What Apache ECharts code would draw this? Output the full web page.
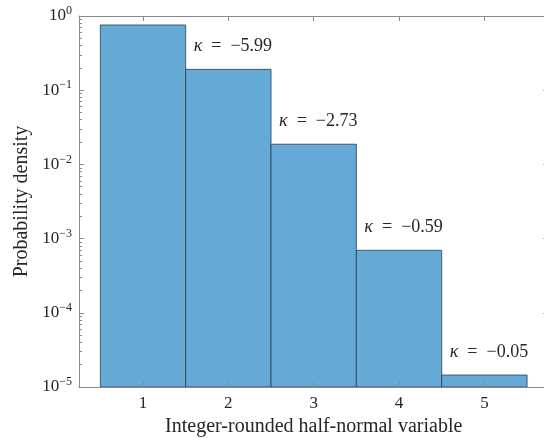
<!DOCTYPE html>
<html>
<head>
<meta charset="utf-8">
<script src="https://cdn.jsdelivr.net/npm/echarts@6/dist/echarts.min.js"></script>
<style>
html,body{margin:0;padding:0;background:#fff;}
#chart{width:544px;height:439px;}
</style>
</head>
<body>
<div id="chart"></div>
<script>
// ---- data ----
var categories = [1, 2, 3, 4, 5];
var density = [0.757, 0.191, 0.0187, 0.000695, 0.0000145];
var kappaLabels = ['', '\u22125.99', '\u22122.73', '\u22120.59', '\u22120.05'];
var xTicks = [1, 2, 3, 4, 5];
var yMajor = [1e-5, 1e-4, 1e-3, 1e-2, 1e-1, 1];

var minorExp = [];
for (var e = -5; e < 0; e++) {
  for (var m = 2; m <= 9; m++) minorExp.push(Math.log10(m * Math.pow(10, e)));
}

var FONT = 'Liberation Serif';
var AXIS = '#8a8a8a';
var TXT = '#262626';

var chart = echarts.init(document.getElementById('chart'));

function yLabel(v) {
  var ex = Math.round(Math.log10(v));
  var s = ex < 0 ? '\u2212' + (-ex) : String(ex);
  return '{b|10}{s|' + s + '}';
}

var seriesData = categories.map(function (c, i) { return [c, density[i], i]; });

var G = { left: 79, top: 16, right: -4.4, bottom: 52, outerBoundsMode: 'none' };
// helper grids whose edge coincides with the left / right frame lines (for minor ticks)
var GL = { left: 0, width: 79, top: 16, bottom: 52, outerBoundsMode: 'none' };
var GR = { left: 548.4, width: 40, top: 16, bottom: 52, outerBoundsMode: 'none' };
var hiddenX = function (gi) {
  return { type: 'value', gridIndex: gi, min: 0, max: 1, axisLine: { show: false }, axisTick: { show: false }, axisLabel: { show: false }, splitLine: { show: false } };
};

var option = {
  animation: false,
  backgroundColor: '#fff',
  grid: [Object.assign({}, G), Object.assign({}, G), GL, GR],
  xAxis: [{
    type: 'value', gridIndex: 0, min: 0.25, max: 5.75, position: 'bottom', z: 10,
    name: 'Integer-rounded half-normal variable', nameLocation: 'middle', nameGap: 27,
    nameTextStyle: { fontFamily: FONT, fontSize: 20, color: TXT },
    axisLine: { show: true, lineStyle: { color: AXIS, width: 1 } },
    axisTick: { show: true, inside: true, length: 5, lineStyle: { color: AXIS }, customValues: xTicks },
    axisLabel: { show: true, margin: 8, fontFamily: FONT, fontSize: 17, color: TXT, customValues: xTicks },
    splitLine: { show: false }
  }, {
    type: 'value', gridIndex: 1, min: 0.25, max: 5.75, position: 'top', z: 10,
    axisLine: { show: true, lineStyle: { color: AXIS, width: 1 } },
    axisTick: { show: true, inside: true, length: 5, lineStyle: { color: AXIS }, customValues: xTicks },
    axisLabel: { show: false },
    splitLine: { show: false }
  }, hiddenX(2), hiddenX(3)],
  yAxis: [{
    type: 'log', gridIndex: 0, logBase: 10, min: 1e-5, max: 1, position: 'left', z: 10,
    name: 'Probability density', nameLocation: 'middle', nameGap: 42,
    nameTextStyle: { fontFamily: FONT, fontSize: 20, color: TXT },
    axisLine: { show: true, lineStyle: { color: AXIS, width: 1 } },
    axisTick: { show: true, inside: true, length: 5, lineStyle: { color: AXIS } },
    axisLabel: {
      show: true, margin: 7, formatter: yLabel,
      rich: {
        b: { fontFamily: FONT, fontSize: 17, color: TXT, lineHeight: 22 },
        s: { fontFamily: FONT, fontSize: 12, color: TXT, lineHeight: 11, verticalAlign: 'top' }
      }
    },
    splitLine: { show: false }, minorTick: { show: false }
  }, {
    type: 'log', gridIndex: 1, logBase: 10, min: 1e-5, max: 1, position: 'right', z: 10,
    axisLine: { show: true, lineStyle: { color: AXIS, width: 1 } },
    axisTick: { show: true, inside: true, length: 5, lineStyle: { color: AXIS } },
    axisLabel: { show: false }, splitLine: { show: false }
  }, {
    type: 'value', gridIndex: 2, min: -5, max: 0, position: 'right', z: 10,
    axisLine: { show: true, onZero: false, lineStyle: { color: 'rgba(0,0,0,0)' } },
    axisTick: { show: true, inside: false, length: 3, lineStyle: { color: AXIS }, customValues: minorExp },
    axisLabel: { show: false }, splitLine: { show: false }
  }, {
    type: 'value', gridIndex: 3, min: -5, max: 0, position: 'left', z: 10,
    axisLine: { show: true, onZero: false, lineStyle: { color: 'rgba(0,0,0,0)' } },
    axisTick: { show: true, inside: false, length: 3, lineStyle: { color: AXIS }, customValues: minorExp },
    axisLabel: { show: false }, splitLine: { show: false }
  }],
  series: [{
    type: 'custom',
    xAxisIndex: 0, yAxisIndex: 0,
    z: 2,
    data: seriesData,
    renderItem: function (params, api) {
      var x = api.value(0), y = api.value(1), idx = api.value(2);
      var p1 = api.coord([x - 0.5, y]);
      var p2 = api.coord([x + 0.5, 1e-5]);
      var children = [{
        type: 'rect',
        shape: { x: p1[0], y: p1[1], width: p2[0] - p1[0], height: p2[1] - p1[1] },
        style: { fill: '#65a9d7', stroke: '#2c3e50', lineWidth: 0.8 }
      }];
      var lab = kappaLabels[idx];
      if (lab) {
        children.push({
          type: 'text',
          x: p1[0] + 8, y: p1[1] - 23,
          style: {
            text: '{k|\u03ba}\u2002=\u2002' + lab,
            fontFamily: FONT, fontSize: 18, fill: TXT,
            verticalAlign: 'middle', align: 'left',
            rich: { k: { fontFamily: FONT, fontSize: 18, fontStyle: 'italic', fill: TXT } }
          }
        });
      }
      return { type: 'group', children: children };
    }
  }]
};
chart.setOption(option);
</script>
</body>
</html>
